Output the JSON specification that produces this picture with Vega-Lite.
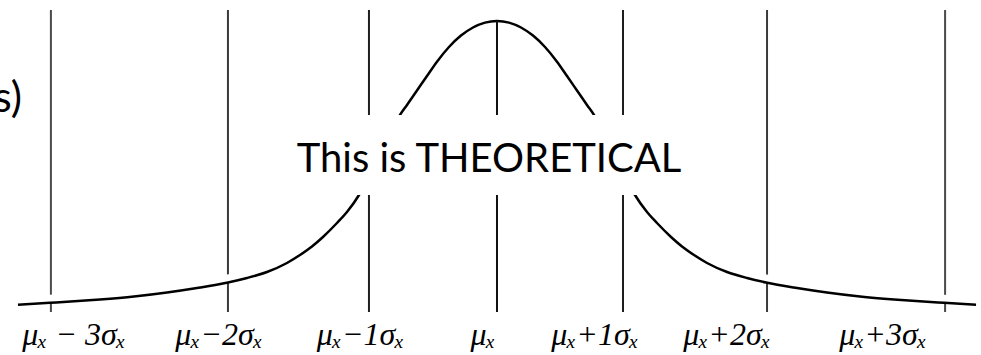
{
  "$schema": "https://vega.github.io/schema/vega-lite/v6.json",
  "width": 981,
  "height": 355,
  "autosize": {"type": "none"},
  "padding": 0,
  "background": "white",
  "config": {"view": {"stroke": null}},
  "datasets": {
    "curve": [
      {"z": -3.8016, "v": -0.0028},
      {"z": -3.5476, "v": 0.0042},
      {"z": -3.4127, "v": 0.0077},
      {"z": -3.1508, "v": 0.0158},
      {"z": -2.881, "v": 0.0264},
      {"z": -2.619, "v": 0.0405},
      {"z": -2.381, "v": 0.0563},
      {"z": -2.1349, "v": 0.0757},
      {"z": -1.9841, "v": 0.0915},
      {"z": -1.8254, "v": 0.1127},
      {"z": -1.6667, "v": 0.1444},
      {"z": -1.5635, "v": 0.1725},
      {"z": -1.4683, "v": 0.2025},
      {"z": -1.381, "v": 0.2359},
      {"z": -1.2698, "v": 0.2852},
      {"z": -1.1905, "v": 0.3239},
      {"z": -1.0873, "v": 0.3891},
      {"z": -0.9921, "v": 0.4683},
      {"z": -0.9127, "v": 0.5423},
      {"z": -0.8333, "v": 0.6127},
      {"z": -0.7698, "v": 0.6655},
      {"z": -0.7143, "v": 0.7007},
      {"z": -0.6349, "v": 0.7518},
      {"z": -0.5556, "v": 0.8028},
      {"z": -0.4762, "v": 0.8532},
      {"z": -0.381, "v": 0.9049},
      {"z": -0.2857, "v": 0.9451},
      {"z": -0.1905, "v": 0.9736},
      {"z": -0.0952, "v": 0.9908},
      {"z": 0, "v": 0.9965},
      {"z": 0.0952, "v": 0.9908},
      {"z": 0.1905, "v": 0.9736},
      {"z": 0.2857, "v": 0.9451},
      {"z": 0.381, "v": 0.9049},
      {"z": 0.4762, "v": 0.8532},
      {"z": 0.5556, "v": 0.8028},
      {"z": 0.6349, "v": 0.7518},
      {"z": 0.7143, "v": 0.7007},
      {"z": 0.7698, "v": 0.6655},
      {"z": 0.8333, "v": 0.6127},
      {"z": 0.9127, "v": 0.5423},
      {"z": 0.9921, "v": 0.4683},
      {"z": 1.0873, "v": 0.3891},
      {"z": 1.1905, "v": 0.3239},
      {"z": 1.2698, "v": 0.2852},
      {"z": 1.381, "v": 0.2359},
      {"z": 1.4683, "v": 0.2025},
      {"z": 1.5635, "v": 0.1725},
      {"z": 1.6667, "v": 0.1444},
      {"z": 1.8254, "v": 0.1127},
      {"z": 1.9841, "v": 0.0915},
      {"z": 2.1349, "v": 0.0757},
      {"z": 2.381, "v": 0.0563},
      {"z": 2.619, "v": 0.0405},
      {"z": 2.881, "v": 0.0264},
      {"z": 3.1508, "v": 0.0158},
      {"z": 3.4127, "v": 0.0077},
      {"z": 3.5476, "v": 0.0042},
      {"z": 3.8016, "v": -0.0028}
    ],
    "sigma": [
      {"z": -3.54, "k": "3"},
      {"z": -2.135, "k": "2"},
      {"z": -1.016, "k": "1"},
      {"z": 0, "k": "0"},
      {"z": 1.0, "k": "1"},
      {"z": 2.143, "k": "2"},
      {"z": 3.556, "k": "3"}
    ],
    "labels": [
      {"z": -3.357, "label": "μₓ − 3σₓ"},
      {"z": -2.206, "label": "μₓ−2σₓ"},
      {"z": -1.083, "label": "μₓ−1σₓ"},
      {"z": -0.111, "label": "μₓ"},
      {"z": 0.778, "label": "μₓ+1σₓ"},
      {"z": 1.825, "label": "μₓ+2σₓ"},
      {"z": 3.063, "label": "μₓ+3σₓ"}
    ]
  },
  "layer": [
    {
      "data": {"name": "sigma"},
      "transform": [{"filter": "datum.k != '0'"}],
      "mark": {"type": "rule", "strokeWidth": 2},
      "encoding": {
        "x": {"field": "z", "type": "quantitative", "scale": {"domain": [-3.944, 3.841], "nice": false, "zero": false}, "axis": null},
        "y": {"datum": 1.035, "type": "quantitative", "scale": {"domain": [-0.1796, 1.0704], "nice": false, "zero": false}, "axis": null},
        "y2": {"datum": -0.028},
        "color": {"field": "k", "type": "nominal", "scale": {"domain": ["0", "1", "2", "3"], "range": ["#111111", "#1e1e1e", "#3a3a3a", "#4a4a4a"]}, "legend": null}
      }
    },
    {
      "data": {"name": "curve"},
      "mark": {"type": "line", "color": "white", "strokeWidth": 8, "yOffset": -4, "interpolate": "monotone"},
      "encoding": {
        "x": {"field": "z", "type": "quantitative", "axis": null},
        "y": {"field": "v", "type": "quantitative", "axis": null}
      }
    },
    {
      "data": {"name": "curve"},
      "mark": {"type": "line", "color": "#000000", "strokeWidth": 2.5, "interpolate": "monotone"},
      "encoding": {
        "x": {"field": "z", "type": "quantitative", "axis": null},
        "y": {"field": "v", "type": "quantitative", "axis": null}
      }
    },
    {
      "data": {"name": "sigma"},
      "transform": [{"filter": "datum.k == '0'"}],
      "mark": {"type": "rule", "strokeWidth": 2, "color": "#111111"},
      "encoding": {
        "x": {"field": "z", "type": "quantitative", "axis": null},
        "y": {"datum": 0.9965, "type": "quantitative", "axis": null},
        "y2": {"datum": -0.028}
      }
    },
    {
      "data": {"values": [{}]},
      "mark": {"type": "rect", "color": "white"},
      "encoding": {
        "x": {"datum": -1.603, "type": "quantitative", "axis": null},
        "x2": {"datum": 1.492},
        "y": {"datum": 0.6655, "type": "quantitative", "axis": null},
        "y2": {"datum": 0.3838}
      }
    },
    {
      "data": {"values": [{"z": -0.063, "v": 0.4648, "text": "This is THEORETICAL"}]},
      "mark": {"type": "text", "font": "Lato", "fontSize": 40, "align": "center", "baseline": "alphabetic", "color": "#000000"},
      "encoding": {
        "x": {"field": "z", "type": "quantitative", "axis": null},
        "y": {"field": "v", "type": "quantitative", "axis": null},
        "text": {"field": "text"}
      }
    },
    {
      "data": {"values": [{"z": -3.77, "v": 0.676, "text": "s)"}]},
      "mark": {"type": "text", "font": "Lato", "fontSize": 42, "align": "right", "baseline": "alphabetic", "color": "#000000"},
      "encoding": {
        "x": {"field": "z", "type": "quantitative", "axis": null},
        "y": {"field": "v", "type": "quantitative", "axis": null},
        "text": {"field": "text"}
      }
    },
    {
      "data": {"name": "labels"},
      "mark": {"type": "text", "font": "Liberation Serif", "fontStyle": "italic", "fontSize": 32, "align": "center", "baseline": "alphabetic", "color": "#000000"},
      "encoding": {
        "x": {"field": "z", "type": "quantitative", "axis": null},
        "y": {"datum": -0.144, "type": "quantitative", "axis": null},
        "text": {"field": "label"}
      }
    }
  ]
}
